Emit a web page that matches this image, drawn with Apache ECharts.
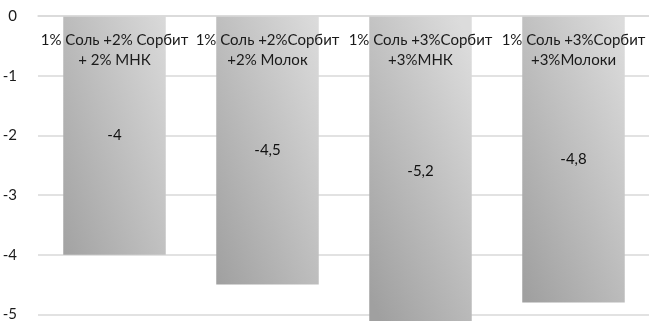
<!DOCTYPE html>
<html>
<head>
<meta charset="utf-8">
<style>
  html, body { margin: 0; padding: 0; background: #fff; }
  #chart { width: 649px; height: 321px; }
</style>
<script src="https://cdn.jsdelivr.net/npm/echarts@6/dist/echarts.min.js"></script>
</head>
<body>
<div id="chart"></div>
<script>
// Sample formulations and their measured values
const categories = [
  '1% Соль +2% Сорбит\n+ 2% МНК',
  '1% Соль +2%Сорбит\n+2% Молок',
  '1% Соль +3%Сорбит\n+3%МНК',
  '1% Соль +3%Сорбит\n+3%Молоки'
];
const values = [-4, -4.5, -5.2, -4.8];
const yTicks = { min: -6, max: 0, interval: 1 };

const FONT = 'Lato, "Noto Sans", sans-serif';
const chart = echarts.init(document.getElementById('chart'), null, { renderer: 'canvas' });

// Grey fill running from the lower-left corner to the upper-right corner,
// with bands parallel to the other diagonal of each (tall) bar
const barFill = new echarts.graphic.LinearGradient(-0.37, 0.63, 1.37, 0.37, [
  { offset: 0, color: '#a0a0a0' },
  { offset: 1, color: '#dcdcdc' }
]);

chart.setOption({
  animation: false,
  backgroundColor: '#ffffff',
  grid: { left: 38, top: 16, width: 612, height: 358, outerBoundsMode: 'none', containLabel: false },
  xAxis: {
    type: 'category',
    position: 'top',
    data: categories,
    z: 10,
    axisLine: { show: true, lineStyle: { color: '#d9d9d9', width: 1.5 } },
    axisTick: { show: false },
    axisLabel: {
      inside: true,
      interval: 0,
      margin: 14,
      color: '#1a1a1a',
      fontFamily: FONT,
      fontSize: 15,
      lineHeight: 20,
      align: 'center'
    }
  },
  yAxis: {
    type: 'value',
    min: yTicks.min,
    max: yTicks.max,
    interval: yTicks.interval,
    axisLine: { show: false },
    axisTick: { show: false },
    splitLine: { lineStyle: { color: '#d9d9d9', width: 1.5 } },
    axisLabel: {
      margin: 21,
      color: '#1a1a1a',
      fontFamily: FONT,
      fontSize: 15
    }
  },
  series: [{
    type: 'bar',
    data: values,
    barWidth: '67%',
    itemStyle: { color: barFill },
    label: {
      show: true,
      position: 'inside',
      color: '#111',
      fontFamily: FONT,
      fontSize: 15,
      formatter: p => String(p.value).replace('.', ',')
    }
  }]
});
</script>
</body>
</html>
